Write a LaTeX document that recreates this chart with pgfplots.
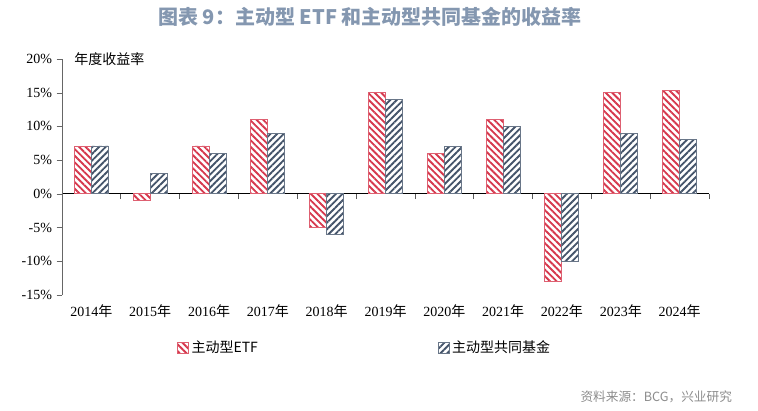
\documentclass[border=0pt]{standalone}
\usepackage{pgfplots}
\pgfplotsset{compat=1.18}
\usetikzlibrary{patterns.meta}
\usepackage{fontspec}
\setmainfont{Liberation Serif}
\newfontfamily\cjk{Noto Sans CJK SC}
\definecolor{etfred}{HTML}{D6384D}
\definecolor{fundblue}{HTML}{44546A}
\definecolor{titleblue}{HTML}{8497B0}
\newcommand\Y[1]{#1{\cjk 年}}
\begin{document}
\begin{tikzpicture}
\path[use as bounding box] (-46.5pt,-87pt) rectangle (522pt,221.25pt);
% zero line with ticks at category boundaries
\begin{axis}[
  scale only axis, width=485.25pt, height=177pt,
  xmin=-0.5, xmax=10.5, ymin=-15, ymax=20,
  axis y line=none, axis x line=middle, axis line style={-, line width=0.9pt},
  xtick={-0.5,0.5,...,10.5}, xticklabels={}, tick align=outside,
  major tick length=4pt, tick style={line width=0.6pt, gray!70!black}]
\end{axis}
\begin{axis}[
  scale only axis, width=485.25pt, height=177pt,
  xmin=-0.5, xmax=10.5, ymin=-15, ymax=20,
  axis y line=left, axis x line=bottom,
  x axis line style={draw=none}, y axis line style={-, gray!80!black},
  xtick=data, major x tick style={draw=none},
  xticklabels={\Y{2014},\Y{2015},\Y{2016},\Y{2017},\Y{2018},\Y{2019},\Y{2020},\Y{2021},\Y{2022},\Y{2023},\Y{2024}},
  ytick={-15,-10,-5,0,5,10,15,20},
  yticklabels={-15\%,-10\%,-5\%,0\%,5\%,10\%,15\%,20\%},
  ytick style={gray!80!black}, tick align=outside, major tick length=4pt,
  ticklabel style={font=\fontsize{10.5}{12}\selectfont},
  ybar=0pt, bar width=12.75pt,
  legend style={draw=none, fill=none, at={(0.1716,-0.2246)}, anchor=west,
    legend columns=2, font=\fontsize{10.5}{12}\selectfont\cjk,
    /tikz/every even column/.append style={column sep=133pt}},
  legend image code/.code={\draw[#1] (0pt,-4pt) rectangle (8pt,4pt);},
  clip=false]
\addplot[draw=etfred!80, line width=0.7pt, pattern={Lines[angle=-45,distance=3.5pt,line width=1.4pt]}, pattern color=etfred]
  coordinates {(0,7) (1,-1) (2,7.1) (3,11) (4,-5) (5,15) (6,6) (7,11) (8,-13) (9,15) (10,15.3)};
\addplot[draw=fundblue!80, line width=0.7pt, pattern={Lines[angle=45,distance=3.5pt,line width=1.4pt]}, pattern color=fundblue]
  coordinates {(0,7.1) (1,3) (2,6) (3,9) (4,-6) (5,14) (6,7) (7,10) (8,-10) (9,9) (10,8)};
\legend{主动型ETF,主动型共同基金}
\node[anchor=west, font=\fontsize{10.5}{12}\selectfont\cjk] at (rel axis cs:0.012,1) {年度收益率};
\end{axis}
\node[font=\fontsize{15}{17}\selectfont\cjk\bfseries, text=titleblue] at (231pt,208.5pt) {图表 9：主动型 ETF 和主动型共同基金的收益率};
\node[anchor=east, font=\fontsize{9.5}{11}\selectfont\cjk, text=gray!90] at (506pt,-76.5pt) {资料来源：BCG，兴业研究};
\end{tikzpicture}
\end{document}
